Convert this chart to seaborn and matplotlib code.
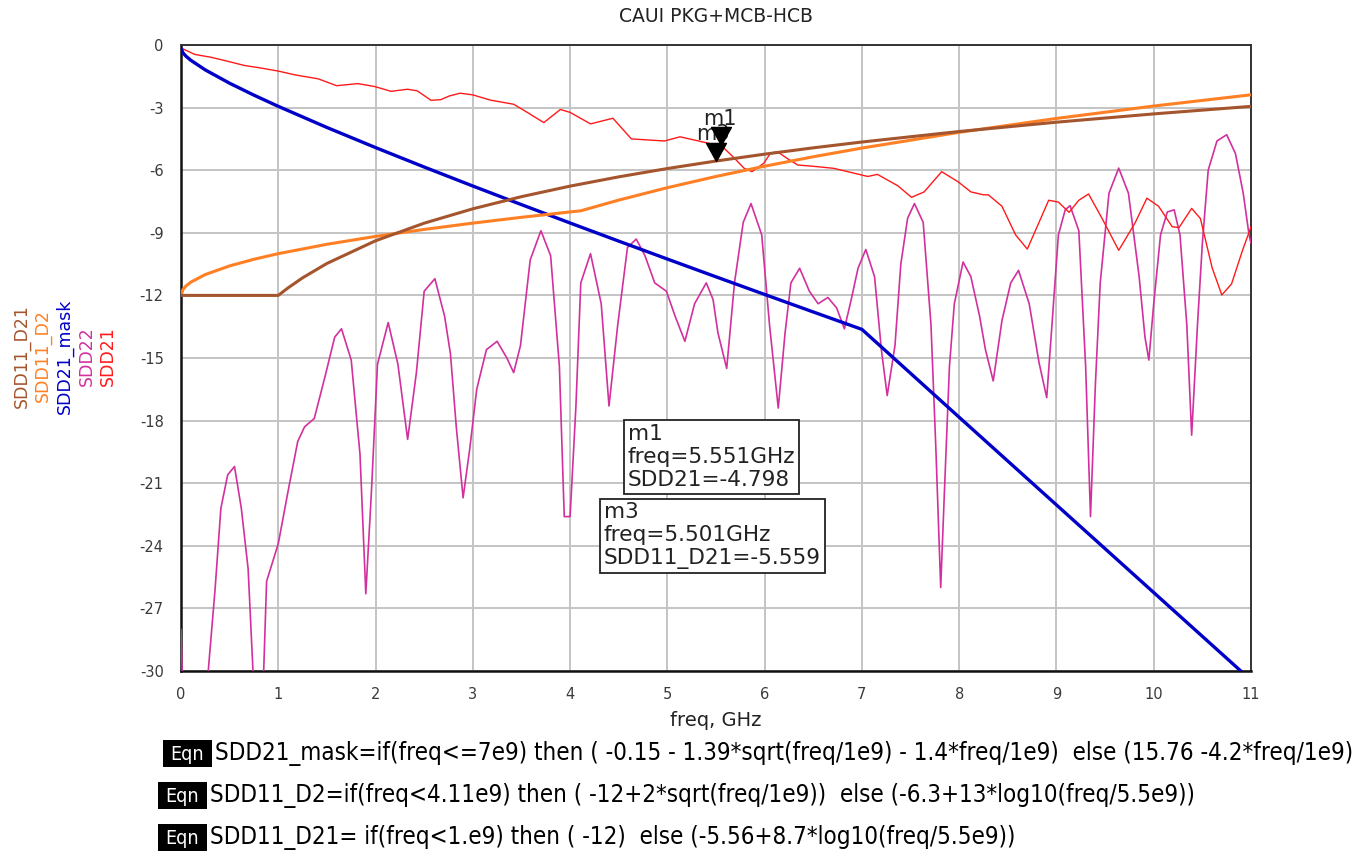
import numpy as np
import pandas as pd
import matplotlib
matplotlib.use("Agg")
import matplotlib.pyplot as plt
from matplotlib.patches import Rectangle
from matplotlib.ticker import MultipleLocator, FixedLocator, FixedFormatter
from matplotlib import font_manager
import seaborn as sns

# ---------------- data ----------------
title_text = "CAUI PKG+MCB-HCB"
xlabel_text = "freq, GHz"
x_ticks = [0, 1, 2, 3, 4, 5, 6, 7, 8, 9, 10, 11]
x_tick_labels = [str(t) for t in x_ticks]
y_ticks = [0, -3, -6, -9, -12, -15, -18, -21, -24, -27, -30]
y_tick_labels = [str(t) for t in y_ticks]

# SDD21_mask (blue)
mask_f = [0.0, 0.02, 0.05, 0.1, 0.25, 0.5, 0.75, 1.0, 1.5, 2.0, 2.5, 3.0, 3.5, 4.0,
          4.5, 5.0, 5.5, 6.0, 6.5, 7.0, 8.0, 9.0, 10.0, 11.0]
mask_v = [-0.15, -0.375, -0.531, -0.73, -1.195, -1.833, -2.404, -2.94, -3.952, -4.916,
          -5.848, -6.758, -7.650, -8.53, -9.399, -10.258, -11.110, -11.955, -12.794,
          -13.628, -17.84, -22.04, -26.24, -30.44]

# SDD11_D2 (orange)
d2_f = [0.0, 0.02, 0.05, 0.1, 0.25, 0.5, 0.75, 1.0, 1.5, 2.0, 2.5, 3.0, 3.5, 4.0, 4.11,
        4.5, 5.0, 5.5, 6.0, 6.5, 7.0, 8.0, 9.0, 10.0, 11.0]
d2_v = [-12.0, -11.717, -11.553, -11.368, -11.0, -10.586, -10.268, -10.0, -9.551, -9.172,
        -8.838, -8.536, -8.258, -8.0, -7.945, -7.433, -6.838, -6.3, -5.809, -5.356,
        -4.939, -4.185, -3.519, -2.925, -2.387]

# SDD11_D21 (brown)
d21_f = [0.0, 1.0, 1.1, 1.25, 1.5, 2.0, 2.5, 3.0, 3.5, 4.0, 4.5, 5.0, 5.5, 6.0, 6.5,
         7.0, 8.0, 9.0, 10.0, 11.0]
d21_v = [-12.0, -12.0, -11.641, -11.158, -10.469, -9.382, -8.539, -7.850, -7.268, -6.763,
         -6.319, -5.920, -5.56, -5.231, -4.928, -4.649, -4.145, -3.699, -3.302, -2.941]

# SDD21 (red)
sdd21_f = [0.0, 0.14, 0.31, 0.48, 0.65, 0.83, 1.0, 1.17, 1.41, 1.6, 1.82, 1.99, 2.16,
           2.33, 2.43, 2.57, 2.67, 2.76, 2.87, 3.0, 3.18, 3.42, 3.56, 3.73, 3.9, 4.0,
           4.21, 4.44, 4.63, 4.8, 4.97, 5.13, 5.32, 5.46, 5.551, 5.69, 5.79, 5.87, 5.99,
           6.06, 6.13, 6.23, 6.34, 6.54, 6.71, 7.06, 7.16, 7.37, 7.51, 7.64, 7.82, 7.99,
           8.12, 8.25, 8.30, 8.44, 8.58, 8.70, 8.82, 8.92, 9.02, 9.13, 9.23, 9.33, 9.47,
           9.64, 9.81, 9.93, 10.05, 10.19, 10.26, 10.39, 10.48, 10.6, 10.70, 10.80,
           10.91, 11.0]
sdd21_v = [-0.14, -0.45, -0.59, -0.78, -0.98, -1.11, -1.25, -1.43, -1.62, -1.95, -1.85,
           -1.99, -2.22, -2.12, -2.2, -2.65, -2.62, -2.44, -2.31, -2.39, -2.64, -2.84,
           -3.23, -3.72, -3.09, -3.23, -3.78, -3.51, -4.5, -4.55, -4.6, -4.4, -4.6, -4.75,
           -4.798, -5.43, -5.91, -6.07, -5.67, -5.19, -5.11, -5.43, -5.75, -5.83, -5.91,
           -6.3, -6.2, -6.75, -7.3, -7.04, -6.07, -6.56, -7.04, -7.18, -7.18, -7.73,
           -9.1, -9.78, -8.51, -7.44, -7.53, -8.02, -7.44, -7.14, -8.32, -9.84, -8.51,
           -7.34, -7.73, -8.71, -8.75, -7.83, -8.32, -10.67, -11.98, -11.45, -9.88, -8.71]

# SDD22 (magenta)
sdd22_f = [0.0, 0.03, 0.27, 0.28, 0.35, 0.41, 0.48, 0.55, 0.62, 0.69, 0.74, 0.76, 0.84,
           0.85, 0.88, 1.0, 1.10, 1.2, 1.27, 1.37, 1.48, 1.58, 1.65, 1.75, 1.84, 1.90,
           1.96, 2.02, 2.13, 2.23, 2.33, 2.42, 2.50, 2.61, 2.71, 2.77, 2.83, 2.90, 2.97,
           3.04, 3.14, 3.25, 3.35, 3.42, 3.49, 3.59, 3.70, 3.80, 3.89, 3.94, 4.0, 4.06,
           4.11, 4.21, 4.32, 4.40, 4.49, 4.59, 4.68, 4.77, 4.87, 4.99, 5.08, 5.18, 5.28,
           5.40, 5.47, 5.52, 5.61, 5.69, 5.78, 5.86, 5.97, 6.05, 6.14, 6.21, 6.27, 6.36,
           6.46, 6.55, 6.65, 6.74, 6.82, 6.89, 6.96, 7.04, 7.13, 7.20, 7.26, 7.34, 7.40,
           7.47, 7.54, 7.63, 7.71, 7.76, 7.81, 7.85, 7.90, 7.95, 8.04, 8.12, 8.21, 8.27,
           8.35, 8.44, 8.53, 8.61, 8.72, 8.82, 8.90, 8.96, 9.02, 9.09, 9.14, 9.23, 9.30,
           9.35, 9.40, 9.45, 9.54, 9.64, 9.74, 9.85, 9.91, 9.95, 10.0, 10.07, 10.14,
           10.21, 10.27, 10.34, 10.39, 10.45, 10.50, 10.56, 10.65, 10.75, 10.84, 10.92,
           10.98, 11.0]
sdd22_v = [-28.0, -33.0, -33.0, -30.0, -26.1, -22.2, -20.6, -20.2, -22.2, -25.1, -30.0,
           -33.0, -33.0, -30.0, -25.7, -23.9, -21.4, -19.0, -18.3, -17.9, -15.9, -14.0,
           -13.6, -15.1, -19.6, -26.3, -21.2, -15.3, -13.3, -15.3, -18.9, -15.7, -11.8,
           -11.2, -13.0, -14.8, -18.3, -21.7, -19.3, -16.5, -14.6, -14.2, -15.0, -15.7,
           -14.4, -10.3, -8.9, -10.1, -15.4, -22.6, -22.6, -17.3, -11.4, -10.0, -12.4,
           -17.3, -13.4, -9.7, -9.3, -10.1, -11.4, -11.8, -13.0, -14.2, -12.4, -11.4,
           -12.2, -13.8, -15.5, -11.4, -8.5, -7.6, -9.1, -13.4, -17.4, -13.8, -11.4,
           -10.7, -11.8, -12.4, -12.1, -12.6, -13.6, -12.2, -10.7, -9.8, -11.1, -14.6,
           -16.8, -14.4, -10.5, -8.3, -7.6, -8.5, -13.4, -19.3, -26.0, -21.2, -15.4,
           -12.4, -10.4, -11.1, -13.0, -14.6, -16.1, -13.2, -11.4, -10.8, -12.4, -15.2,
           -16.9, -13.0, -9.1, -7.9, -7.7, -8.9, -15.4, -22.6, -16.3, -11.4, -7.1, -5.9,
           -7.1, -11.1, -14.0, -15.1, -12.4, -9.1, -8.0, -7.9, -9.1, -13.4, -18.7, -13.4,
           -9.5, -6.0, -4.6, -4.3, -5.2, -7.1, -9.1, -9.5]

# markers
marker_names = ["m1", "m3"]
marker_f = [5.551, 5.501]
marker_v = [-4.798, -5.559]
marker_box_texts = ["m1\nfreq=5.551GHz\nSDD21=-4.798",
                    "m3\nfreq=5.501GHz\nSDD11_D21=-5.559"]

legend_names = ["SDD11_D21", "SDD11_D2", "SDD21_mask", "SDD22", "SDD21"]
eqn_texts = [
    "SDD21_mask=if(freq<=7e9) then ( -0.15 - 1.39*sqrt(freq/1e9) - 1.4*freq/1e9)  else (15.76 -4.2*freq/1e9)",
    "SDD11_D2=if(freq<4.11e9) then ( -12+2*sqrt(freq/1e9))  else (-6.3+13*log10(freq/5.5e9))",
    "SDD11_D21= if(freq<1.e9) then ( -12)  else (-5.56+8.7*log10(freq/5.5e9))",
]

# ---------------- styling ----------------
C_BLUE = "#0000C8"
C_ORANGE = "#FF8024"
C_BROWN = "#A5552D"
C_MAGENTA = "#D2309E"
C_RED = "#FF1A1A"
legend_colors = [C_BROWN, C_ORANGE, C_BLUE, C_MAGENTA, C_RED]

sns.set_theme(style="white")
plt.rcParams['font.family'] = ['DejaVu Sans']
plt.rcParams['axes.unicode_minus'] = False

W, H = 1356, 851
fig = plt.figure(figsize=(W / 100, H / 100), dpi=100)
fig.patch.set_facecolor("white")
L, R, T, B = 181, 1251, 45, 671
ax = fig.add_axes([L / W, 1 - B / H, (R - L) / W, (B - T) / H])
ax.set_facecolor("white")


def fx(px):
    return px / W


def fy(py):
    return 1 - py / H


def draw(freq, vals, color, lw, z):
    df = pd.DataFrame({"freq": freq, "val": vals})
    sns.lineplot(data=df, x="freq", y="val", ax=ax, color=color, linewidth=lw,
                 sort=False, estimator=None, zorder=z)


draw(sdd22_f, sdd22_v, C_MAGENTA, 1.2, 3)
draw(sdd21_f, sdd21_v, C_RED, 1.0, 4)
draw(mask_f, mask_v, C_BLUE, 2.4, 5)
draw(d2_f, d2_v, C_ORANGE, 2.2, 6)
draw(d21_f, d21_v, C_BROWN, 2.2, 7)

ax.set_xlim(0, 11)
ax.set_ylim(-30, 0)
ax.xaxis.set_major_locator(FixedLocator(x_ticks))
ax.xaxis.set_major_formatter(FixedFormatter(x_tick_labels))
ax.xaxis.set_minor_locator(MultipleLocator(0.2))
ax.yaxis.set_major_locator(FixedLocator(y_ticks))
ax.yaxis.set_major_formatter(FixedFormatter(y_tick_labels))
ax.yaxis.set_minor_locator(MultipleLocator(1.5))
ax.grid(True, which="major", color="#C4C4C4", linewidth=1.4, zorder=0)
ax.set_axisbelow(True)
ax.set_xlabel("")
ax.set_ylabel("")
ax.tick_params(axis="y", which="major", direction="out", length=10.5, width=1.6,
               color="#222222", labelsize=10.5, labelcolor="#3a3a3a", pad=2)
ax.tick_params(axis="y", which="minor", direction="out", length=5.5, width=1.6,
               color="#222222")
ax.tick_params(axis="x", which="major", direction="out", length=8.5, width=1.6,
               color="#222222", labelsize=10.5, labelcolor="#3a3a3a", pad=3)
ax.tick_params(axis="x", which="minor", direction="out", length=5, width=1.6,
               color="#222222")
for s in ["left", "bottom"]:
    ax.spines[s].set_color("#111111")
    ax.spines[s].set_linewidth(1.8)
for s in ["top", "right"]:
    ax.spines[s].set_color("#333333")
    ax.spines[s].set_linewidth(1.4)

# marker triangles (tip on the data point)
tri = [(0, 0), (-0.55, 1), (0.55, 1), (0, 0)]
for f, v in zip(marker_f, marker_v):
    ax.plot([f], [v], marker=tri, markersize=26, color="black", linestyle="none",
            zorder=10, clip_on=False)
ax.text(5.54, -3.55, marker_names[0], ha="center", va="center", fontsize=15,
        color="#222222", zorder=9)
ax.text(5.47, -4.25, marker_names[1], ha="center", va="center", fontsize=15,
        color="#222222", zorder=8)

# marker readout boxes
box_pos = [(628, 424), (604, 502)]
for (px, py), txt in zip(box_pos, marker_box_texts):
    fig.text(fx(px), fy(py), txt, ha="left", va="top", fontsize=15.6,
             color="#222222", linespacing=1.2,
             bbox=dict(boxstyle="square,pad=0.18", facecolor="white",
                       edgecolor="#222222", linewidth=1.3))

# title & x label
fig.text(fx(716), fy(17), title_text, ha="center", va="center", fontsize=13.5,
         color="#222222")
fig.text(fx(716), fy(721), xlabel_text, ha="center", va="center", fontsize=14,
         color="#222222")

# rotated legend labels
leg_x = [22, 43, 65, 87, 108]
for name, col, x in zip(legend_names, legend_colors, leg_x):
    fig.text(fx(x), fy(356), name, rotation=90, ha="center", va="center",
             fontsize=12.5, color=col)

# equation lines
names = {f.name for f in font_manager.fontManager.ttflist}
eq_kw = {}
if "Liberation Sans Narrow" in names:
    eq_kw = dict(family=["Liberation Sans Narrow", "DejaVu Sans"])
elif any(f.name == "DejaVu Sans" and f.stretch in ("condensed", "semi-condensed")
         for f in font_manager.fontManager.ttflist):
    eq_kw = dict(family=["DejaVu Sans"], fontstretch="condensed")

eq_left = [215, 210, 210]
eq_y = [754, 796, 838]
eq_box_x = [(163, 212), (158, 207), (158, 207)]
eq_objs = []
for txt, lx, yy in zip(eqn_texts, eq_left, eq_y):
    t = fig.text(fx(lx), fy(yy), txt, ha="left", va="center", fontsize=17,
                 color="black", **eq_kw)
    eq_objs.append(t)
for (x0, x1), yy in zip(eq_box_x, eq_y):
    fig.patches.append(Rectangle((fx(x0), fy(yy + 13)), fx(x1) - fx(x0), 27 / H,
                                 transform=fig.transFigure, facecolor="black",
                                 edgecolor="none", zorder=5))
    fig.text(fx((x0 + x1) / 2), fy(yy), "Eqn", ha="center", va="center",
             fontsize=14, color="white", zorder=6, **eq_kw)

fig.canvas.draw()
rend = fig.canvas.get_renderer()
w0 = eq_objs[0].get_window_extent(rend).width
scale = (1352 - 215) / w0
for t in eq_objs:
    t.set_fontsize(17 * scale)

fig.savefig("out.png", dpi=100, facecolor="white")
